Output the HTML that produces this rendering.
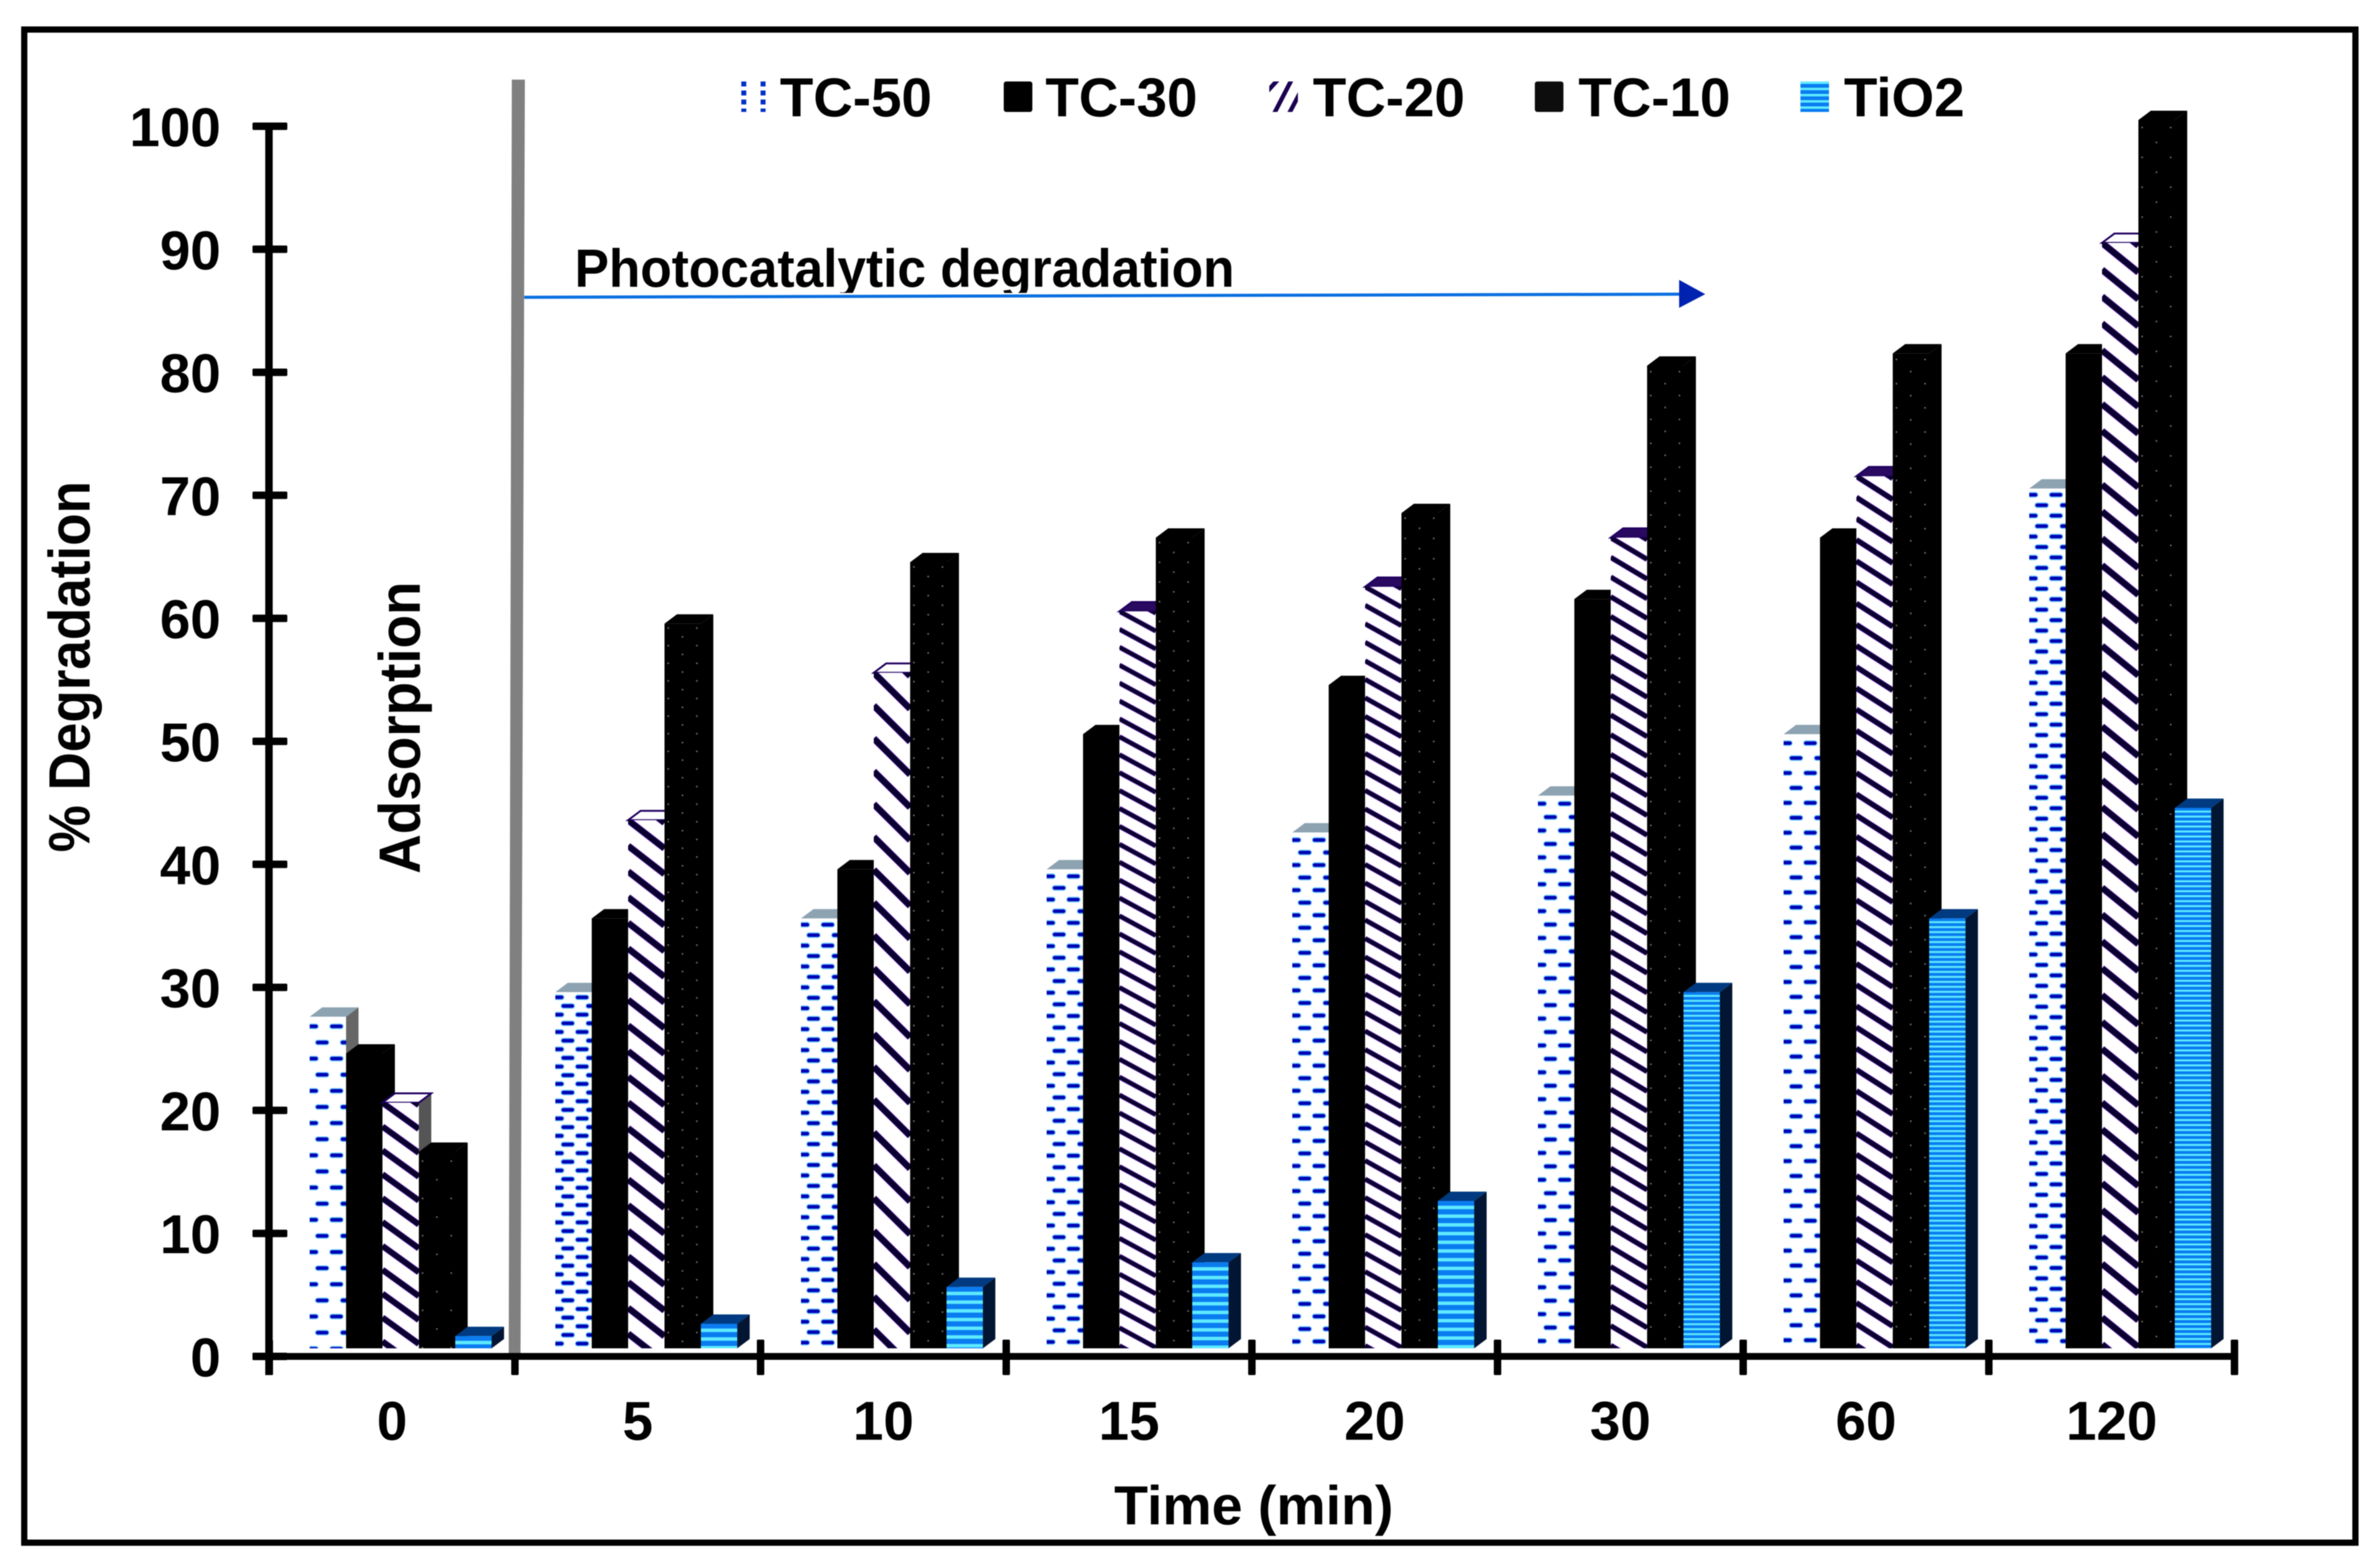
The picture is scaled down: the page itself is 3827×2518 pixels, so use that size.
<!DOCTYPE html>
<html lang="en">
<head>
<meta charset="utf-8">
<title>Percent degradation over time</title>
<style>
html,body{margin:0;padding:0;background:#fff}
svg{display:block;filter:blur(0.8px)}
text{font-family:"Liberation Sans",sans-serif;font-weight:bold;fill:#000}
</style>
</head>
<body>
<svg id="chart" xmlns="http://www.w3.org/2000/svg" width="3827" height="2518" viewBox="0 0 3827 2518">
  <defs id="defs">
    <clipPath id="photo-clip"><rect x="900" y="380" width="1200" height="91"/></clipPath>
    <pattern id="key-tc50" patternUnits="userSpaceOnUse" width="31" height="14.5" patternTransform="translate(1187 131)">
      <rect x="5" y="0" width="8" height="8" fill="#0030c8"/>
    </pattern>
    <pattern id="key-tio2" patternUnits="userSpaceOnUse" width="10" height="10" patternTransform="translate(0 131)">
      <rect width="10" height="10" fill="#0a7cf0"/><rect width="10" height="4" fill="#5feaff"/>
    </pattern>
  </defs>
  <rect x="0" y="0" width="3827" height="2518" fill="#fff"/>
  <rect x="39" y="47.5" width="3748.5" height="2433" fill="none" stroke="#000" stroke-width="10"/>
  <g id="bars"></g>
  <polygon points="823,128 844,128 837,2176 818,2176" fill="#808080"/>
  <g id="axes"></g>
  <text x="144" y="1072" font-size="94" text-anchor="middle" textLength="597" lengthAdjust="spacingAndGlyphs" transform="rotate(-90 144 1072)">% Degradation</text>
  <text x="2016" y="2451" font-size="88" text-anchor="middle" textLength="449" lengthAdjust="spacingAndGlyphs">Time (min)</text>
  <text x="675" y="1170" font-size="94" text-anchor="middle" textLength="470" lengthAdjust="spacingAndGlyphs" transform="rotate(-90 675 1170)">Adsorption</text>
  <text x="924" y="461" font-size="86" textLength="1061" lengthAdjust="spacingAndGlyphs" clip-path="url(#photo-clip)">Photocatalytic degradation</text>
  <line x1="843" y1="478" x2="2702" y2="473" stroke="#0a6fe0" stroke-width="5"/>
  <polygon points="2700,450 2742,473 2700,495" fill="#0022b0"/>
  <g id="legend"></g>
</svg>
<script>
const categories = ['0', '5', '10', '15', '20', '30', '60', '120'];
const seriesNames = ['TC-50', 'TC-30', 'TC-20', 'TC-10', 'TiO2'];
const tc50 = [27, 29, 35, 39, 42, 45, 50, 70];
const tc30 = [24, 35, 39, 50, 54, 61, 66, 81];
const tc20 = [20, 43, 55, 60, 62, 66, 71, 90];
const tc10 = [16, 59, 64, 66, 68, 80, 81, 100];
const tio2 = [1, 2, 5, 7, 12, 29, 35, 44];
const yTickLabels = [0, 10, 20, 30, 40, 50, 60, 70, 80, 90, 100];

const seriesValues = [tc50, tc30, tc20, tc10, tio2];
const NS = 'http://www.w3.org/2000/svg';
const AX = 433, BAND = 395, AY = 2181, UNIT = 19.78, BAR_UNIT = 19.75, BASE = 2168;
const BW = 58.5, DX = 20, DY = 15, OFFSET = 65;

function xBand(i) { return AX + BAND * i; }
function xBar(i, s) { return xBand(i) + OFFSET + BW * s; }
function yAxis(v) { return AY - UNIT * v; }
function yBar(v) { return BASE - BAR_UNIT * v; }
function mk(tag, attrs, parent) {
  const el = document.createElementNS(NS, tag);
  for (const k in attrs) el.setAttribute(k, attrs[k]);
  if (parent) parent.appendChild(el);
  return el;
}

const defs = document.getElementById('defs');
const barsLayer = document.getElementById('bars');
const axesLayer = document.getElementById('axes');
const legendLayer = document.getElementById('legend');

function frontFill(s, i, v, x, top) {
  const id = 'fill-' + s + '-' + i;
  if (s === 1) return '#000';
  let p;
  if (s === 0) {
    const pitch = 0.48 * v * (v < 28 ? 2 : v < 60 ? 1 : 0.5);
    p = mk('pattern', {id, patternUnits: 'userSpaceOnUse', width: 40, height: pitch * 2, patternTransform: 'translate(' + x + ' ' + top + ')'}, defs);
    const y1 = pitch * 0.6, y2 = pitch * 1.6;
    [[-7, y1], [33, y1], [10, y2]].forEach(function (d) {
      mk('rect', {x: d[0] - 1.5, y: d[1] - 4.5, width: 23, height: 9, rx: 4.5, fill: '#66c4ff'}, p);
      mk('rect', {x: d[0], y: d[1] - 2.8, width: 20, height: 5.6, rx: 2.8, fill: '#0000b4'}, p);
    });
  } else if (s === 2) {
    const period = 0.48 * v * (v < 25 ? 4 : v < 59 ? 2 : 1);
    const drop = period * 1.1;
    p = mk('pattern', {id, patternUnits: 'userSpaceOnUse', width: BW, height: period, patternTransform: 'translate(' + x + ' ' + top + ')'}, defs);
    mk('rect', {width: BW, height: period, fill: '#fff'}, p);
    const stroke = Math.min(10, period * 0.24);
    for (let j = -4; j <= 2; j++) {
      mk('line', {x1: 0, y1: j * period, x2: BW, y2: j * period + drop, stroke: '#b060ff', 'stroke-width': stroke + 1.5}, p);
    }
    for (let j = -4; j <= 2; j++) {
      mk('line', {x1: 0, y1: j * period, x2: BW, y2: j * period + drop, stroke: '#0a0030', 'stroke-width': stroke}, p);
    }
  } else if (s === 3) {
    const rowPitch = v < 20 ? 30 : 0.24 * v;
    p = mk('pattern', {id, patternUnits: 'userSpaceOnUse', width: 46, height: rowPitch * 2, patternTransform: 'translate(' + x + ' ' + top + ')'}, defs);
    mk('rect', {width: 46, height: rowPitch * 2, fill: '#000'}, p);
    mk('circle', {cx: 6, cy: rowPitch * 0.5, r: 1.4, fill: '#6e6e6e'}, p);
    mk('circle', {cx: 29, cy: rowPitch * 1.5, r: 1.4, fill: '#6e6e6e'}, p);
  } else {
    const pitch = v < 20 ? 14 : 8;
    p = mk('pattern', {id, patternUnits: 'userSpaceOnUse', width: BW, height: pitch, patternTransform: 'translate(' + x + ' ' + top + ')'}, defs);
    mk('rect', {width: BW, height: pitch, fill: '#0a7cf0'}, p);
    mk('rect', {y: pitch * 0.55, width: BW, height: pitch * 0.4, fill: '#5feaff'}, p);
  }
  return 'url(#' + id + ')';
}

const topFills = ['#8ea3b2', '#000', '#fff', '#000', '#003a80'];
const sideFills = ['#666', '#000', '#555', '#000', '#021633'];

seriesValues.forEach(function (values, s) {
  const seriesGroup = mk('g', {}, barsLayer);
  
  
  values.forEach(function (v, i) {
    const x = xBar(i, s), top = yBar(v);
    const g = mk('g', {}, seriesGroup);
    
    
    const side = mk('polygon', {points: [x + BW, top, x + BW + DX, top - DY, x + BW + DX, BASE - DY, x + BW, BASE].join(' '), fill: sideFills[s]}, g);
    
    
    const capFill = (s === 2 && v > 55 && v < 90) ? '#2a0a60' : topFills[s];
    const cap = mk('polygon', {points: [x, top, x + DX, top - DY, x + BW + DX, top - DY, x + BW, top].join(' '), fill: capFill}, g);
    
    
    if (s === 2) { cap.setAttribute('stroke', '#200060'); cap.setAttribute('stroke-width', '3'); }
    const front = mk('rect', {x: x, y: top, width: BW, height: BASE - top, fill: frontFill(s, i, v, x, top)}, g);
    
    
  });
});

const yLine = mk('rect', {x: 426.5, y: 197, width: 12, height: 2014, fill: '#000'}, axesLayer);


const xLine = mk('rect', {x: 406, y: AY - 5.5, width: xBand(categories.length) + 6 - 406, height: 11, fill: '#000'}, axesLayer);



yTickLabels.forEach(function (v) {
  const tick = mk('rect', {x: 406, y: yAxis(v) - 6, width: 56, height: 12, rx: 2, fill: '#000'}, axesLayer);
  
  
  const label = mk('text', {x: 355, y: yAxis(v) + 32, 'font-size': 88, 'text-anchor': 'end'}, axesLayer);
  label.textContent = String(v);
  
  
});

for (let i = 0; i <= categories.length; i++) {
  const tick = mk('rect', {x: xBand(i) - 6, y: i === 1 ? AY - 5 : 2154, width: 12, height: i === 1 ? 35 : 57, rx: 2, fill: '#000'}, axesLayer);
  
  
}
categories.forEach(function (c, i) {
  const label = mk('text', {x: xBand(i) + BAND / 2, y: 2315, 'font-size': 88, 'text-anchor': 'middle'}, axesLayer);
  label.textContent = c;
  
  
});

seriesNames.forEach(function (name, s) {
  const kx = 1187 + 427 * s;
  const entry = mk('g', {}, legendLayer);
  
  
  const fills = ['url(#key-tc50)', '#000', '#fff', '#0d0d0d', 'url(#key-tio2)'];
  const key = mk('rect', {x: kx, y: 131, width: 46, height: 49, rx: s === 1 || s === 3 ? 4 : 0, fill: fills[s]}, entry);
  
  
  if (s === 2) {
    [[-6, 150, 14, 128], [6, 186, 36, 128], [30, 186, 50, 148]].forEach(function (d) {
      const st = mk('line', {x1: kx + d[0], y1: d[1], x2: kx + d[2], y2: d[3], stroke: '#1a0050', 'stroke-width': 7}, entry);
      
      
    });
    const cover = mk('path', {d: 'M' + (kx - 12) + ' 120h12v70h-12z M' + (kx + 46) + ' 120h12v70h-12z M' + (kx - 12) + ' 118h70v13h-70z M' + (kx - 12) + ' 180h70v13h-70z', fill: '#fff'}, entry);
    
    
  }
  const label = mk('text', {x: kx + 67 + (s > 1 ? 3 : 0), y: 187, 'font-size': 88}, entry);
  label.textContent = name;
  
  
});
</script>
</body>
</html>
